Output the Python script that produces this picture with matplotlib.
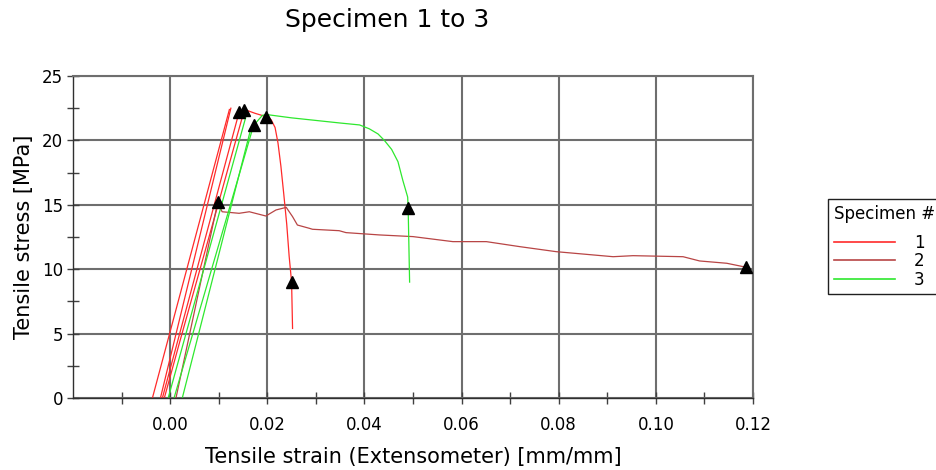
import matplotlib
matplotlib.use("Agg")
import matplotlib.pyplot as plt
from matplotlib.lines import Line2D

# Specimen 1 (red) - main curve
s1_strain = [-0.0012, 0.002, 0.006, 0.010, 0.013, 0.0153, 0.0175, 0.0197, 0.0208, 0.0216,
             0.0222, 0.0228, 0.0234, 0.0240, 0.0245, 0.0250, 0.0252]
s1_stress = [0, 4.4, 9.8, 15.2, 19.3, 22.4, 22.1, 21.85, 21.6, 21.0,
             19.8, 18.0, 15.8, 13.5, 11.0, 9.0, 5.4]
# extra straight segments (modulus fits) for specimen 1
s1_fit_strain = [[-0.00365, 0.0122], [-0.0020, 0.0125], [-0.0016, 0.0142]]
s1_fit_stress = [[0, 22.4], [0, 22.5], [0, 22.2]]
s1_mark_strain = [0.0142, 0.0153, 0.0250]
s1_mark_stress = [22.2, 22.35, 9.0]

# Specimen 2 (dark red)
s2_strain = [0.0012, 0.0098, 0.0107, 0.0142, 0.0163, 0.0197, 0.0218, 0.0239, 0.0252,
             0.0262, 0.0287, 0.0293, 0.0348, 0.0362, 0.0431, 0.0500, 0.0582, 0.0651,
             0.0720, 0.0795, 0.0912, 0.0953, 0.1056, 0.1090, 0.1146, 0.1186]
s2_stress = [0, 15.2, 14.46, 14.34, 14.46, 14.13, 14.6, 14.8, 14.08,
             13.43, 13.17, 13.1, 12.99, 12.84, 12.66, 12.53, 12.14, 12.14,
             11.75, 11.36, 10.97, 11.05, 10.97, 10.64, 10.46, 10.15]
s2_mark_strain = [0.0098, 0.1186]
s2_mark_stress = [15.2, 10.15]

# Specimen 3 (green)
s3_strain = [0.0025, 0.0166, 0.0175, 0.0190, 0.0200, 0.0250, 0.0300, 0.0350, 0.0390,
             0.0410, 0.0428, 0.0441, 0.0456, 0.0469, 0.0479, 0.0489, 0.0490, 0.0493]
s3_stress = [0, 20.9, 21.3, 21.95, 22.0, 21.75, 21.55, 21.35, 21.2,
             20.9, 20.5, 20.0, 19.3, 18.35, 16.9, 15.6, 14.75, 9.0]
s3_fit_strain = [[-0.0004, 0.0156], [0.0008, 0.0172]]
s3_fit_stress = [[0, 21.85], [0, 21.2]]
s3_mark_strain = [0.0172, 0.0197, 0.0490]
s3_mark_stress = [21.2, 21.8, 14.75]

labels = ["1", "2", "3"]
colors = ["#ff2a2a", "#b84545", "#2ee82e"]

fig = plt.figure(figsize=(9.36, 4.70), dpi=100)
ax = fig.add_axes([0.078, 0.1532, 0.7265, 0.6851])

lw = 0.9
ax.plot(s1_strain, s1_stress, color=colors[0], lw=lw)
for xs, ys in zip(s1_fit_strain, s1_fit_stress):
    ax.plot(xs, ys, color=colors[0], lw=lw)
ax.plot(s2_strain, s2_stress, color=colors[1], lw=lw)
ax.plot(s3_strain, s3_stress, color=colors[2], lw=lw)
for xs, ys in zip(s3_fit_strain, s3_fit_stress):
    ax.plot(xs, ys, color=colors[2], lw=lw)

for mx, my in [(s1_mark_strain, s1_mark_stress), (s2_mark_strain, s2_mark_stress),
               (s3_mark_strain, s3_mark_stress)]:
    ax.plot(mx, my, linestyle="none", marker="^", color="black", markersize=9, zorder=5)

ax.set_xlim(-0.02, 0.12)
ax.set_ylim(0, 25)
ax.set_xticks([0.0, 0.02, 0.04, 0.06, 0.08, 0.10, 0.12])
ax.set_xticklabels(["0.00", "0.02", "0.04", "0.06", "0.08", "0.10", "0.12"])
ax.set_xticks([-0.01, 0.01, 0.03, 0.05, 0.07, 0.09, 0.11], minor=True)
ax.set_yticks([0, 5, 10, 15, 20, 25])
ax.set_yticks([2.5, 7.5, 12.5, 17.5, 22.5], minor=True)
ax.grid(True, which="major", color="#6e6e6e", lw=1.5)
ax.set_axisbelow(True)
ax.tick_params(which="both", direction="inout", length=8, width=1, color="#404040",
               labelsize=12)
ax.tick_params(axis="x", pad=9)
ax.tick_params(axis="y", pad=3)
for sp in ax.spines.values():
    sp.set_color("#6e6e6e")
    sp.set_linewidth(1.5)
ax.spines["bottom"].set_color("#303030")
ax.spines["left"].set_color("#303030")
ax.spines["bottom"].set_linewidth(1)
ax.spines["left"].set_linewidth(1)

ax.set_xlabel("Tensile strain (Extensometer) [mm/mm]", fontsize=15, labelpad=9)
ax.set_ylabel("Tensile stress [MPa]", fontsize=15, labelpad=6)
fig.text(387 / 936, 1 - 20 / 470, "Specimen 1 to 3", fontsize=18, ha="center", va="center")

handles = [Line2D([], [], color=c, lw=1.2) for c in colors]
leg = fig.legend(handles, labels, title="Specimen #", loc="upper left",
                 bbox_to_anchor=(828 / 936, 1 - 199 / 470), fontsize=12, title_fontsize=12,
                 frameon=True, fancybox=False, framealpha=1, edgecolor="#202020",
                 handlelength=3.65, handletextpad=1.15, labelspacing=0.02,
                 borderpad=0.35, borderaxespad=0, alignment="left")
leg.get_frame().set_linewidth(1)
# extra room between the legend title and the entries
leg._legend_box.sep = 8

fig.savefig("out.png", dpi=100)
